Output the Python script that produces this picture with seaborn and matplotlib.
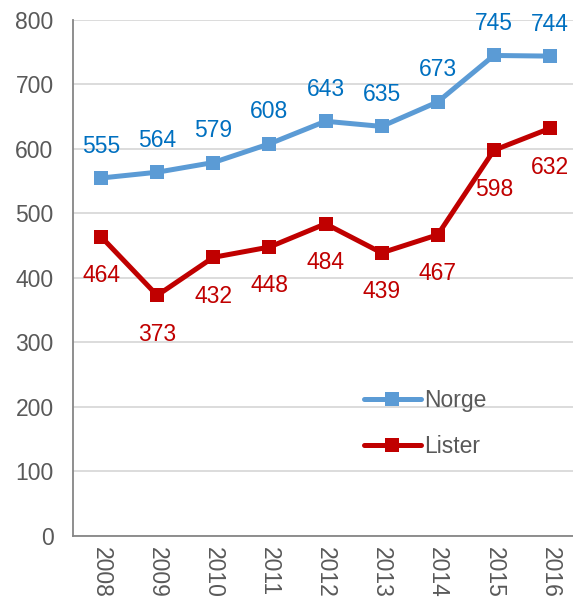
import matplotlib
matplotlib.use("Agg")
import matplotlib.pyplot as plt
import seaborn as sns
import pandas as pd

years = ["2008", "2009", "2010", "2011", "2012", "2013", "2014", "2015", "2016"]
norge = [555, 564, 579, 608, 643, 635, 673, 745, 744]
lister = [464, 373, 432, 448, 484, 439, 467, 598, 632]
yticks = [0, 100, 200, 300, 400, 500, 600, 700, 800]

line_colors = {"Norge": "#5B9BD5", "Lister": "#C00000"}
label_colors = {"Norge": "#0070C0", "Lister": "#C00000"}

sns.set_theme(style="white")
plt.rcParams["font.family"] = ["Liberation Sans", "DejaVu Sans"]

df = pd.DataFrame({
    "pos": list(range(len(years))) * 2,
    "value": norge + lister,
    "serie": ["Norge"] * len(years) + ["Lister"] * len(years),
})

fig = plt.figure(figsize=(5.73, 6.04), dpi=100)
ax = fig.add_axes([0.1274, 0.1126, 0.8726, 0.8543])

sns.lineplot(data=df, x="pos", y="value", hue="serie", palette=line_colors,
             hue_order=["Norge", "Lister"], marker="s", markersize=10,
             markeredgewidth=0, linewidth=3.6, ax=ax, legend=True)

# value labels: Norge above the points, Lister below
for name, vals, dy in (("Norge", norge, 23), ("Lister", lister, -28)):
    for i, v in enumerate(vals):
        ax.annotate(str(v), (i, v), xytext=(0, dy), textcoords="offset points",
                    ha="center", va="center", fontsize=16.5,
                    color=label_colors[name])

ax.set_xlim(-0.5, 8.41)
ax.set_ylim(0, 800)
ax.set_yticks(yticks)
ax.set_yticklabels([str(t) for t in yticks])
ax.set_xticks(range(len(years)))
ax.set_xticklabels(years, rotation=270)
ax.set_xlabel("")
ax.set_ylabel("")
ax.tick_params(axis="both", length=0, labelsize=16.5, labelcolor="#595959")
ax.tick_params(axis="y", pad=14)
ax.tick_params(axis="x", pad=8)

ax.grid(axis="y", color="#D9D9D9", linewidth=1.3)
ax.set_axisbelow(True)
for side in ("top", "right"):
    ax.spines[side].set_visible(False)
for side in ("left", "bottom"):
    ax.spines[side].set_color("#868686")
    ax.spines[side].set_linewidth(1.3)

leg = ax.legend(loc="upper left", bbox_to_anchor=(0.54, 0.325), frameon=False,
                fontsize=16.5, handlelength=2.5, handletextpad=0.15,
                labelspacing=1.0, labelcolor="#595959")

fig.savefig("out.png", dpi=100)
